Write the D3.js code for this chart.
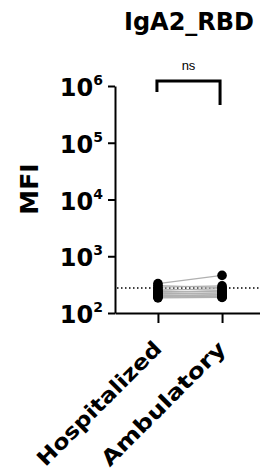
<!DOCTYPE html>
<html><head><meta charset="utf-8">
<script src="https://cdn.jsdelivr.net/npm/d3@7"></script>
<style>body{margin:0;background:#fff}svg{display:block}</style>
</head><body>
<svg id="c" width="260" height="471"></svg>
<script>
const categories = ["Hospitalized", "Ambulatory"];
const hospitalized = [330, 305, 285, 265, 250, 240, 230, 222, 212, 205, 200, 195, 190, 185];
const ambulatory   = [460, 280, 300, 250, 270, 232, 242, 215, 225, 200, 210, 190, 196, 188];
const yTicks = [2, 3, 4, 5, 6];
const cutoff = 276;
const title = "IgA2_RBD";
const sigLabel = "ns";

const svg = d3.select("#c");
const font = "'DejaVu Sans', sans-serif";
const y = d3.scaleLog().domain([1e2, 1e6]).range([313, 86]);
const x = d3.scalePoint().domain(categories).range([115, 265]).padding(0.67);

// y axis
const ya = svg.append("g").attr("transform", "translate(115,0)")
  .call(d3.axisLeft(y).tickValues(yTicks.map(e => Math.pow(10, e))).tickSize(7).tickSizeOuter(0).tickFormat(""));
ya.selectAll("path,line").attr("stroke", "#000").attr("stroke-width", 2);
yTicks.forEach(e => {
  const t = svg.append("text").attr("x", 103).attr("y", y(Math.pow(10, e)) + 10)
    .attr("text-anchor", "end").attr("font-family", font).attr("font-weight", "bold").attr("font-size", 24);
  t.append("tspan").text("10");
  t.append("tspan").attr("dy", -11).attr("font-size", 14).text(String(e));
});

// x axis
const xa = svg.append("g").attr("transform", "translate(0,313)")
  .call(d3.axisBottom(x).tickSize(10).tickSizeOuter(0).tickFormat(""));
xa.selectAll("path,line").attr("stroke", "#000").attr("stroke-width", 2);
categories.forEach(c => {
  svg.append("text").attr("transform", `translate(${x(c) + 5},350) rotate(-45)`)
    .attr("text-anchor", "end").attr("font-family", font).attr("font-weight", "bold")
    .attr("font-size", 21).attr("textLength", 166).attr("lengthAdjust", "spacingAndGlyphs").text(c);
});

// axis title
svg.append("text").attr("transform", "translate(38,189) rotate(-90)").attr("text-anchor", "middle")
  .attr("font-family", font).attr("font-weight", "bold").attr("font-size", 25).text("MFI");

// title
svg.append("text").attr("x", 189).attr("y", 30).attr("text-anchor", "middle")
  .attr("font-family", font).attr("font-weight", "bold").attr("font-size", 24).text(title);

// cutoff line
svg.append("line").attr("x1", 117).attr("x2", 260).attr("y1", y(cutoff)).attr("y2", y(cutoff))
  .attr("stroke", "#000").attr("stroke-width", 1.5).attr("stroke-dasharray", "1.5,2.5");

// paired lines
const pairs = hospitalized.map((h, i) => [h, ambulatory[i]]);
svg.append("g").selectAll("line").data(pairs).join("line")
  .attr("x1", x(categories[0])).attr("x2", x(categories[1]))
  .attr("y1", d => y(d[0])).attr("y2", d => y(d[1]))
  .attr("stroke", "#b0b0b0").attr("stroke-width", 1.2);

// points
[hospitalized, ambulatory].forEach((arr, k) => {
  svg.append("g").selectAll("circle").data(arr).join("circle")
    .attr("cx", x(categories[k])).attr("cy", d => y(d)).attr("r", 4.8).attr("fill", "#000");
});

// significance bracket
const bx1 = x(categories[0]) - 1, bx2 = x(categories[1]) - 2;
svg.append("path").attr("d", `M${bx1},92 V81 H${bx2} V105`).attr("fill", "none")
  .attr("stroke", "#000").attr("stroke-width", 3);
svg.append("text").attr("x", (bx1 + bx2) / 2).attr("y", 70).attr("text-anchor", "middle")
  .attr("font-family", "'Liberation Sans', Arial, sans-serif").attr("font-size", 13).text(sigLabel);
</script>
</body></html>
